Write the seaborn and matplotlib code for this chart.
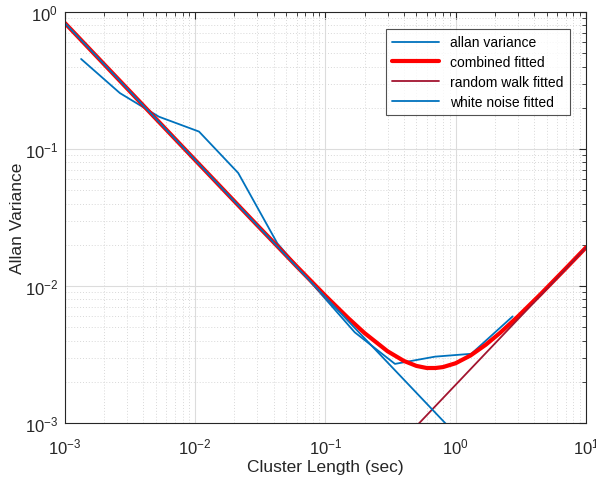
import numpy as np
import pandas as pd
import seaborn as sns
import matplotlib.pyplot as plt

# values
tau = [1.33e-3, 2.64e-3, 5.27e-3, 1.07e-2, 2.14e-2, 4.27e-2, 8.5e-2, 0.168, 0.342, 0.694, 1.32, 2.74]
avar = [0.454, 0.256, 0.172, 0.134, 0.0668, 0.0205, 0.0096, 0.00459, 0.0027, 0.00305, 0.0032, 0.006]

comb_x = [1e-3, 3e-3, 1e-2, 3e-2, 6e-2, 0.1, 0.15, 0.2, 0.3, 0.4, 0.5, 0.6, 0.7, 0.8,
          1.0, 1.3, 1.7, 2.2, 3.0, 4.5, 7.0, 10.0]
comb_y = [0.830, 0.2767, 0.0830, 0.02772, 0.01395, 0.00849, 0.00582, 0.00453, 0.00334,
          0.00284, 0.00261, 0.00252, 0.00252, 0.00256, 0.00273, 0.00311, 0.00372,
          0.00456, 0.00598, 0.00873, 0.01342, 0.01908]

rw_x = [1e-3, 10.0]
rw_y = [1.9e-6, 0.019]

wn_x = [1e-3, 10.0]
wn_y = [0.83, 8.3e-5]

sns.set_style("whitegrid")
plt.rcParams['font.family'] = ['Liberation Sans', 'DejaVu Sans']
txt = '#262626'

fig = plt.figure(figsize=(5.96, 4.81), dpi=100)
ax = fig.add_axes([0.109, 0.1185, 0.874, 0.8545])

sns.lineplot(x=tau, y=avar, ax=ax, color='#0072BD', lw=1.3, sort=False, label='allan variance')
sns.lineplot(x=comb_x, y=comb_y, ax=ax, color='#FF0000', lw=3.0, sort=False, label='combined fitted')
sns.lineplot(x=rw_x, y=rw_y, ax=ax, color='#A2142F', lw=1.3, sort=False, label='random walk fitted')
sns.lineplot(x=wn_x, y=wn_y, ax=ax, color='#0072BD', lw=1.3, sort=False, label='white noise fitted')

ax.set(xscale='log', yscale='log')
ax.set_xlim(1e-3, 10)
ax.set_ylim(1e-3, 1)
ax.set_xlabel('Cluster Length (sec)', fontsize=12.5, color=txt)
ax.set_ylabel('Allan Variance', fontsize=12.5, color=txt)
ax.xaxis.set_label_coords(0.5, -0.087)
ax.yaxis.set_label_coords(-0.076, 0.5)

ax.grid(True, which='major', color='#dcdcdc', lw=0.8, ls='-')
ax.grid(True, which='minor', color='#d8d8d8', lw=0.7, ls=(0, (1, 2)))
ax.tick_params(which='both', direction='in', top=True, right=True, colors=txt, labelsize=12)
ax.tick_params(axis='x', which='major', pad=10)
ax.tick_params(axis='y', which='major', pad=5)
ax.tick_params(which='major', length=5)
ax.tick_params(which='minor', length=3)
for s in ax.spines.values():
    s.set_color(txt)
    s.set_linewidth(0.8)
ax.set_facecolor('white')

leg = ax.legend(loc='upper right', bbox_to_anchor=(0.969, 0.958), borderaxespad=0,
                fontsize=10, handlelength=3.4, frameon=True, fancybox=False, borderpad=0.45,
                labelspacing=0.42, edgecolor='#262626')
leg.get_frame().set_linewidth(0.8)
for t in leg.get_texts():
    t.set_color('#000000')

fig.savefig('out.png', dpi=100)
